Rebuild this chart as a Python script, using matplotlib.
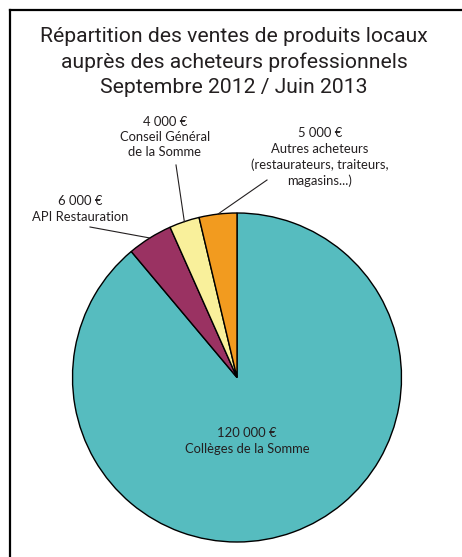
import numpy as np
import matplotlib
matplotlib.use("Agg")
import matplotlib.pyplot as plt
from matplotlib.lines import Line2D

W, H = 462, 557

labels = ["Collèges de la Somme", "API Restauration", "Conseil Général\nde la Somme",
          "Autres acheteurs\n(restaurateurs, traiteurs,\nmagasins...)"]
amounts = [120000, 6000, 4000, 5000]
amount_txt = ["120 000 €", "6 000 €", "4 000 €", "5 000 €"]
colors = ["#56bcbf", "#9a3262", "#f9f09b", "#f29b1f"]
title = "Répartition des ventes de produits locaux\nauprès des acheteurs professionnels\nSeptembre 2012 / Juin 2013"

fig = plt.figure(figsize=(W / 100, H / 100), dpi=100)
ax = fig.add_axes([0, 0, 1, 1])

# frame (left and top only, rest is cut off)
fig.add_artist(Line2D([10 / W, 10 / W], [0, 1 - 10 / H], color="black", lw=1.6,
                      transform=fig.transFigure))
fig.add_artist(Line2D([10 / W, 1], [1 - 10 / H, 1 - 10 / H], color="black", lw=1.6,
                      transform=fig.transFigure))

cx, cy, R = 237, 377.5, 164.5
# y axis is inverted, so "counterclock" in data space appears clockwise on screen
wedges, _ = ax.pie(amounts, colors=colors, startangle=-90, counterclock=True,
                   center=(cx, cy), radius=R, frame=True,
                   wedgeprops=dict(edgecolor="black", linewidth=1.0))
ax.set_xlim(0, W)
ax.set_ylim(H, 0)
ax.set_aspect("equal")
ax.axis("off")

ax.text(234, 62, title, ha="center", va="center", fontsize=15.2, family="Roboto",
        linespacing=1.42, color="#231f20")

lab_font = dict(family="Lato", fontsize=9.4, color="#231f20", ha="center", va="center",
                linespacing=1.35)
ax.text(247, 441, amount_txt[0] + "\n" + labels[0], **lab_font)

label_pos = [None, (80, 209), (165, 137), (320, 157)]
line_start = [None, (90, 227), (176, 165), (267, 180)]
for i in range(1, 4):
    w = wedges[i]
    mid = np.deg2rad((w.theta1 + w.theta2) / 2)
    ex, ey = cx + R * np.cos(mid), cy + R * np.sin(mid)
    ax.plot([line_start[i][0], ex], [line_start[i][1], ey], color="#231f20", lw=0.8)
    ax.text(*label_pos[i], amount_txt[i] + "\n" + labels[i], **lab_font)

fig.savefig("out.png", dpi=100)
